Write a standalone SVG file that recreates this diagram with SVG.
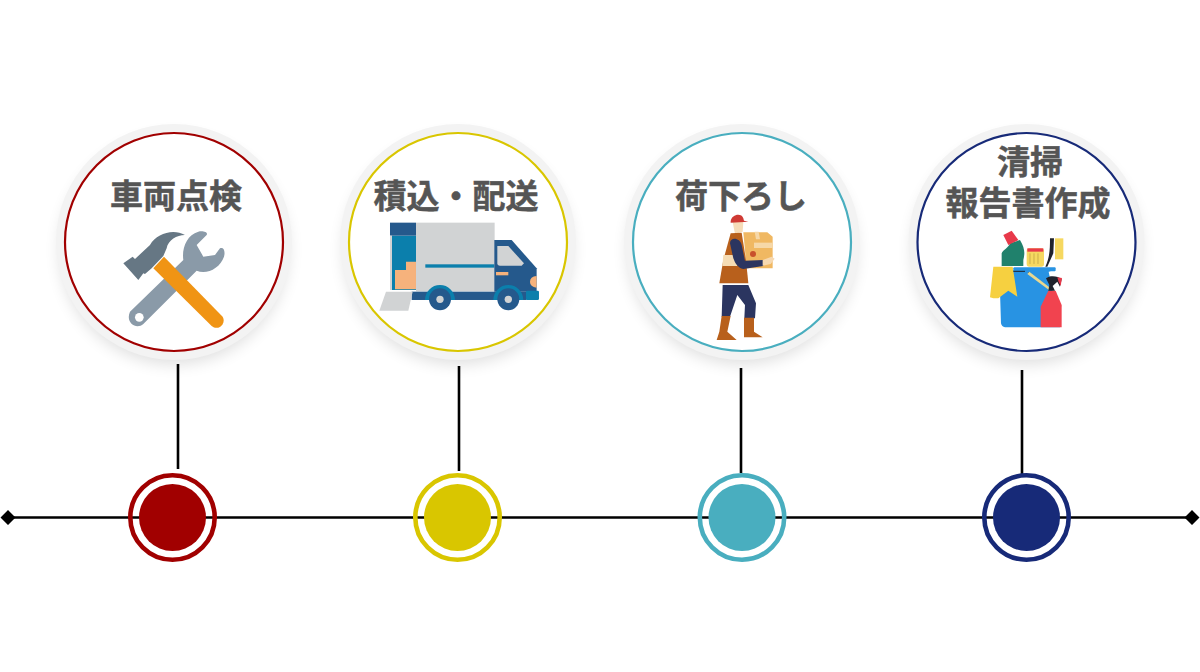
<svg xmlns="http://www.w3.org/2000/svg" width="1200" height="672" viewBox="0 0 1200 672">
<defs>
<filter id="sh" x="-30%" y="-30%" width="160%" height="160%"><feGaussianBlur stdDeviation="8"/></filter>
</defs>
<style>
.halo{fill:#f3f3f3}
.shadow{fill:#000;opacity:.13}
.face{fill:#fff;stroke-width:2.2}
.lbl{font-family:"Noto Sans CJK JP","Noto Sans",sans-serif;font-weight:700;font-size:33px;fill:#555;text-anchor:middle;stroke:#555;stroke-width:.5}
.ln{stroke:#000;stroke-width:2.6;fill:none}
.ring{fill:none;stroke-width:4.6}
</style>
<rect width="1200" height="672" fill="#fff"/>
<g id="connectors">
<path class="ln" d="M8 517.500H1192M178 364V469M459 366V471M741 368V473M1022 370V475"/>
<path d="M8 510l7.500 7.500-7.500 7.500-7.500-7.500zM1192 510l7.500 7.500-7.500 7.500-7.500-7.500z" fill="#000"/>
</g>
<g id="node-1">
<circle class="shadow" cx="174" cy="250" r="114" filter="url(#sh)"/>
<circle class="halo" cx="174" cy="242" r="118"/>
<circle class="face" cx="174" cy="242" r="109" stroke="#a10000"/>
<text class="lbl" x="176" y="208">車両点検</text>
<g id="tools" transform="translate(50 120) scale(.3333)">
<path d="M240 575L400 420C395 385 410 345 445 335C460 332 475 337 470 345L440 375L460 410L495 405L510 385C520 380 527 392 522 410C510 445 470 465 440 452L280 612C260 630 225 610 240 575Z" fill="#8a9aa8"/>
<circle cx="268" cy="592" r="13" fill="#fff"/>
<path d="M220 430L248 410L255 417L300 375C320 340 370 325 405 345C380 345 355 360 350 385L340 408L305 445L285 462L280 460L265 480Z" fill="#667784"/>
<path d="M310 445L342 410L518 590C530 610 505 635 485 618Z" fill="#f09414"/>
</g>
</g>
<g id="node-2">
<circle class="shadow" cx="458" cy="250" r="114" filter="url(#sh)"/>
<circle class="halo" cx="458" cy="242" r="118"/>
<circle class="face" cx="458" cy="242" r="109" stroke="#d9c600"/>
<text class="lbl" x="456" y="208">積込・配送</text>
<g id="truck" transform="translate(340 120) scale(.3333)">
<rect x="228" y="308" width="236" height="206" fill="#d1d3d4"/>
<rect x="154" y="347" width="74" height="163" fill="#0b7fac"/>
<rect x="150" y="308" width="78" height="39" fill="#25598c"/>
<path d="M150 347h6v163h-6z" fill="#d1d3d4"/>
<path d="M165 450H198V425H228V508H165Z" fill="#f6b27c"/>
<rect x="256" y="433" width="207" height="10" fill="#0b7fac"/>
<path d="M463 360H515L590 445V515H463Z" fill="#25598c"/>
<rect x="215" y="515" width="345" height="25" fill="#25598c"/>
<path d="M472 378H505L552 430L545 437H480Q472 437 472 430Z" fill="#d1d3d4"/>
<rect x="468" y="456" width="37" height="10" fill="#f6b27c"/>
<path d="M590 468V503Q570 500 570 485Q570 470 590 468Z" fill="#f6b27c"/>
<rect x="558" y="512" width="39" height="28" rx="4" fill="#0b7fac"/>
<path d="M255 540a45 45 0 0 1 90 0zM460 540a45 45 0 0 1 90 0z" fill="#0b7fac"/>
<circle cx="300" cy="538" r="33" fill="#25598c"/><circle cx="300" cy="538" r="11" fill="#d1d3d4"/>
<circle cx="505" cy="538" r="33" fill="#25598c"/><circle cx="505" cy="538" r="11" fill="#d1d3d4"/>
<path d="M138 515H218L205 572H118Z" fill="#d1d3d4"/>
</g>
</g>
<g id="node-3">
<circle class="shadow" cx="742" cy="250" r="114" filter="url(#sh)"/>
<circle class="halo" cx="742" cy="242" r="118"/>
<circle class="face" cx="742" cy="242" r="109" stroke="#49aebf"/>
<text class="lbl" x="741" y="208">荷下ろし</text>
<g id="worker" transform="translate(680 200) scale(.3333)">
<path d="M158 66L190 66L188 95L165 102Z" fill="#f6dcb8"/>
<path d="M152 64C155 42 185 38 190 55L192 62L205 65L152 68Z" fill="#cf3a34"/>
<path d="M190 97H262L278 110V205H200Z" fill="#f0b862"/>
<path d="M224 95H236L240 118H228Z" fill="#f6d8a8"/>
<rect x="222" y="128" width="56" height="16" fill="#f6d8a8"/>
<circle cx="219" cy="162" r="9" fill="#c8502c"/>
<path d="M152 100L185 98L198 180L205 250H118L130 180Z" fill="#b8601c"/>
<path d="M130 165H170L172 198H127Z" fill="#f5dcb4"/>
<path d="M150 130C150 110 180 112 185 135L195 182L250 180V198L190 207C175 205 165 190 160 175Z" fill="#2b3560"/>
<path d="M248 180L275 170L284 176L272 192L248 197Z" fill="#f6d8b0"/>
<path d="M128 255H205L228 310L225 355H193L195 315L172 285L150 350H125Z" fill="#2b3560"/>
<path d="M125 348H152L142 395L170 420H110L118 395ZM192 353H222V395L248 412H192Z" fill="#b8601c"/>
</g>
</g>
<g id="node-4">
<circle class="shadow" cx="1026.500" cy="250" r="114" filter="url(#sh)"/>
<circle class="halo" cx="1026.500" cy="242" r="118"/>
<circle class="face" cx="1026.500" cy="242" r="109" stroke="#172a78"/>
<text class="lbl" x="1030" y="174">清掃</text>
<text class="lbl" x="1028" y="215">報告書作成</text>
<g id="cleaning" transform="translate(970 220) scale(.3333)">
<path d="M88 150H252L236 155L270 322H105Q95 320 93 310Z" fill="#2893e3"/>
<rect x="130" y="142" width="127" height="12" rx="3" fill="#2893e3"/>
<path d="M120 70L150 60C165 85 165 100 160 120V138H95V100C100 88 115 85 120 70Z" fill="#20816c"/>
<path d="M100 45L125 32L145 60L115 75Z" fill="#e8394a"/>
<rect x="170" y="85" width="52" height="55" rx="8" fill="#f6d860"/>
<rect x="172" y="85" width="48" height="10" fill="#e8394a"/>
<path d="M180 100v32M192 100v32M204 100v32" stroke="#b89a40" stroke-width="2"/>
<path d="M240 55H252L250 100L232 140H226C240 110 240 85 240 55Z" fill="#20232c"/>
<rect x="255" y="55" width="25" height="63" fill="#f6d860"/>
<path d="M70 140H128L142 230L115 212L85 235H70L60 232Z" fill="#f6d040"/>
<path d="M130 154H165M175 158L240 208" stroke="#20232c" stroke-width="3"/>
<path d="M178 155L240 203V212L172 162Z" fill="#e8d890"/>
<path d="M235 212H257L275 255V322H212V260Z" fill="#f1434f"/>
<path d="M228 175C240 165 265 168 275 178L270 200L262 185L248 198L255 212H235L238 195Z" fill="#20232c"/>
<path d="M262 172L276 174L272 198L266 186Z" fill="#e8394a"/>
</g>
</g>
<g id="marker-1"><circle class="ring" cx="172.500" cy="517.500" r="42.200" stroke="#a10000"/><circle cx="172.500" cy="517.500" r="33.500" fill="#a10000"/></g>
<g id="marker-2"><circle class="ring" cx="457.500" cy="517.500" r="42.200" stroke="#d9c600"/><circle cx="457.500" cy="517.500" r="33.500" fill="#d9c600"/></g>
<g id="marker-3"><circle class="ring" cx="742" cy="517.500" r="42.200" stroke="#49aebf"/><circle cx="742" cy="517.500" r="33.500" fill="#49aebf"/></g>
<g id="marker-4"><circle class="ring" cx="1026.500" cy="517.500" r="42.200" stroke="#172a78"/><circle cx="1026.500" cy="517.500" r="33.500" fill="#172a78"/></g>
</svg>
